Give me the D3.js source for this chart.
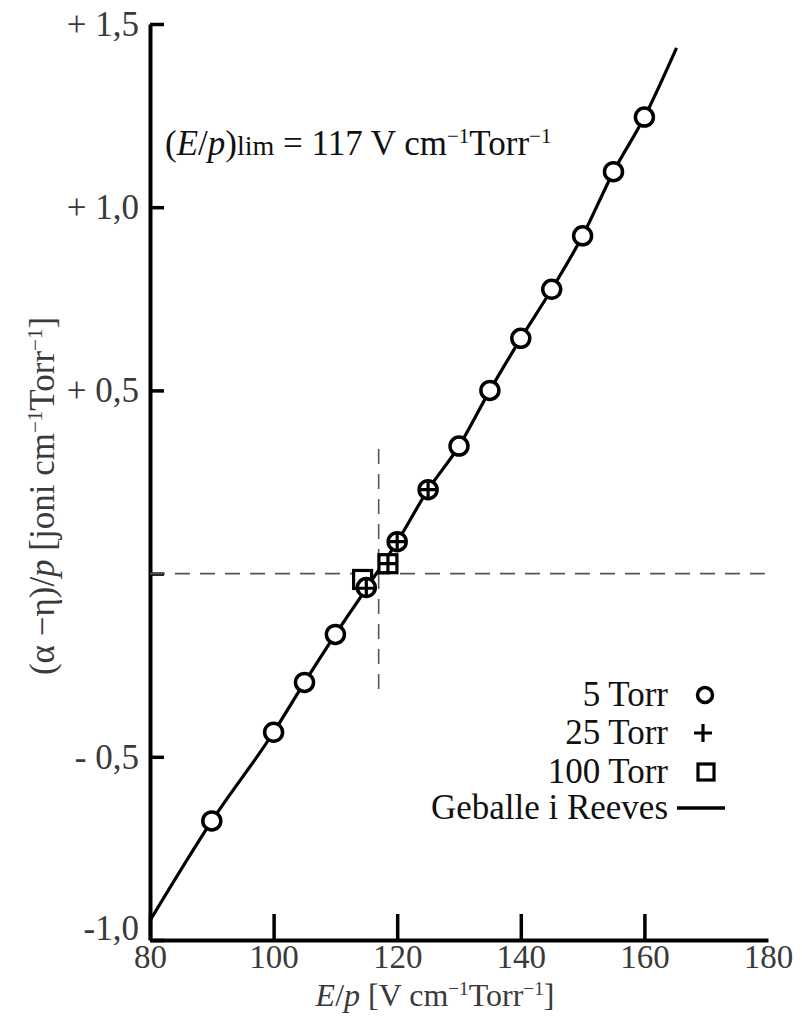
<!DOCTYPE html>
<html>
<head>
<meta charset="utf-8">
<script src="https://cdn.jsdelivr.net/npm/d3@7"></script>
<style>
  body { margin: 0; background: #fff; }
  svg { display: block; font-family: "Liberation Serif", "Times New Roman", serif; }
</style>
</head>
<body>
<svg></svg>
<script>
// 5 Torr (krugovi)
const torr5X = [90, 100, 105, 110, 115, 120, 125, 130, 135, 140, 145, 150, 155, 160];
const torr5Y = [-0.675, -0.433, -0.297, -0.166, -0.038, 0.087, 0.229, 0.348, 0.50, 0.642, 0.776, 0.922, 1.097, 1.246];
// 25 Torr (plus)
const torr25X = [115, 118.5, 120, 125];
const torr25Y = [-0.04, 0.027, 0.087, 0.229];
// 100 Torr (kvadrati)
const torr100X = [114.4, 118.5];
const torr100Y = [-0.016, 0.027];
// Geballe i Reeves
const curveX = [80, 90, 100, 105, 110, 115, 120, 125, 130, 135, 140, 145, 150, 155, 160, 165.2];
const curveY = [-0.947, -0.675, -0.433, -0.297, -0.166, -0.041, 0.087, 0.229, 0.348, 0.50, 0.642, 0.776, 0.922, 1.097, 1.246, 1.435];

const xTicks = [80, 100, 120, 140, 160, 180];
const yTicks = [-1, -0.5, 0, 0.5, 1, 1.5];
const yTickLabels = ["-1,0", "- 0,5", "", "+ 0,5", "+ 1,0", "+ 1,5"];
const limValue = 117;
const legendLabels = ["5 Torr", "25 Torr", "100 Torr", "Geballe i Reeves"];

const width = 802, height = 1017;
const fs = 35;
const svg = d3.select("svg").attr("width", width).attr("height", height);

const x = d3.scaleLinear().domain([80, 180]).range([150, 768]);
const y = d3.scaleLinear().domain([-1, 1.5]).range([940, 24]);

// osi
const yAxis = svg.append("g")
    .attr("transform", `translate(${x(80)},0)`)
    .call(d3.axisLeft(y)
        .tickValues(yTicks)
        .tickSize(-14)
        .tickSizeOuter(0)
        .tickPadding(11)
        .tickFormat((d, i) => yTickLabels[i]));

const xAxis = svg.append("g")
    .attr("transform", `translate(0,${y(-1)})`)
    .call(d3.axisBottom(x)
        .tickValues(xTicks)
        .tickSize(-26)
        .tickSizeOuter(0)
        .tickPadding(5)
        .tickFormat(d3.format("d")));

[yAxis, xAxis].forEach(g => {
    g.select(".domain").attr("stroke", "#000").attr("stroke-width", 4);
    g.selectAll(".tick line").attr("stroke", "#000").attr("stroke-width", 3.5);
    g.selectAll(".tick text")
        .style("font-family", "'Liberation Serif', serif")
        .style("font-size", fs + "px")
        .attr("fill", "#3a3a3a");
});
xAxis.selectAll(".tick text").style("font-size", "33px");
yAxis.selectAll(".tick text").filter(d => d === -1).attr("dy", "-0.02em");
xAxis.selectAll(".tick line").filter(d => d === 180).remove();

// isprekidane linije
svg.append("line")
    .attr("x1", x(80)).attr("x2", x(180))
    .attr("y1", y(0)).attr("y2", y(0))
    .attr("stroke", "#555").attr("stroke-width", 1.6)
    .attr("stroke-dasharray", "15,10");
svg.append("line")
    .attr("x1", x(limValue)).attr("x2", x(limValue))
    .attr("y1", y(0.34)).attr("y2", y(-0.335))
    .attr("stroke", "#555").attr("stroke-width", 1.6)
    .attr("stroke-dasharray", "15,10");

// krivulja
const curveData = curveX.map((d, i) => [d, curveY[i]]);
svg.append("path")
    .datum(curveData)
    .attr("fill", "none")
    .attr("stroke", "#000")
    .attr("stroke-width", 3.2)
    .attr("d", d3.line().x(d => x(d[0])).y(d => y(d[1])).curve(d3.curveMonotoneX));

function drawSquare(g, cx, cy, s) {
    g.append("rect")
        .attr("x", cx - s / 2).attr("y", cy - s / 2)
        .attr("width", s).attr("height", s)
        .attr("fill", "#fff").attr("stroke", "#000").attr("stroke-width", 3.2);
}
function drawCircle(g, cx, cy, r) {
    g.append("circle")
        .attr("cx", cx).attr("cy", cy).attr("r", r)
        .attr("fill", "#fff").attr("stroke", "#000").attr("stroke-width", 3.5);
}
function drawPlus(g, cx, cy, s) {
    g.append("path")
        .attr("d", `M${cx - s / 2},${cy}H${cx + s / 2}M${cx},${cy - s / 2}V${cy + s / 2}`)
        .attr("stroke", "#000").attr("stroke-width", 3.2);
}

const marks = svg.append("g");
torr100X.forEach((d, i) => drawSquare(marks, x(d), y(torr100Y[i]), 18));
torr5X.forEach((d, i) => drawCircle(marks, x(d), y(torr5Y[i]), 9));
torr25X.forEach((d, i) => drawPlus(marks, x(d), y(torr25Y[i]), 18));

// tekst s eksponentima
function richText(el, parts, size) {
    let shift = 0;
    parts.forEach(p => {
        const t = el.append("tspan").text(p.t);
        if (p.i) t.style("font-style", "italic");
        const target = p.sup ? -size * 0.33 : 0;
        if (target !== shift) { t.attr("dy", target - shift); shift = target; }
        if (p.sup) t.style("font-size", (size * 0.6) + "px");
        if (p.small) t.style("font-size", (size * 0.8) + "px");
    });
}

const annot = svg.append("text")
    .attr("x", 165).attr("y", 155)
    .style("font-size", fs + "px").attr("fill", "#111");
richText(annot, [
    { t: "(" }, { t: "E", i: true }, { t: "/" }, { t: "p", i: true }, { t: ")" },
    { t: "lim", small: true }, { t: " = " + limValue + " V cm" }, { t: "\u22121", sup: true },
    { t: "Torr" }, { t: "\u22121", sup: true }
], fs);

// naslov osi x
const xTitle = svg.append("text")
    .attr("x", 435).attr("y", 1006)
    .attr("text-anchor", "middle")
    .style("font-size", "32px").attr("fill", "#3a3a3a");
richText(xTitle, [
    { t: "E", i: true }, { t: "/" }, { t: "p", i: true }, { t: " [V cm" },
    { t: "\u22121", sup: true }, { t: "Torr" }, { t: "\u22121", sup: true }, { t: "]" }
], 32);

// naslov osi y
const yTitle = svg.append("text")
    .attr("transform", "translate(54,496) rotate(-90)")
    .attr("text-anchor", "middle")
    .style("font-size", fs + "px").attr("fill", "#3a3a3a");
richText(yTitle, [
    { t: "(\u03b1 \u2212\u03b7)/" }, { t: "p", i: true }, { t: " [joni cm" },
    { t: "\u22121", sup: true }, { t: "Torr" }, { t: "\u22121", sup: true }, { t: "]" }
], fs);

// legenda
const legend = svg.append("g").attr("class", "legend");
const legendX = 668, symX = 705, rowY = [695, 733, 772, 808];
legendLabels.forEach((d, i) => {
    legend.append("text")
        .attr("x", legendX).attr("y", rowY[i] + 11)
        .attr("text-anchor", "end")
        .style("font-size", fs + "px").attr("fill", "#111")
        .text(d);
});
drawCircle(legend, symX, rowY[0], 7.5);
drawPlus(legend, symX - 2, rowY[1], 18);
drawSquare(legend, symX + 1, rowY[2], 16);
legend.append("line")
    .attr("x1", symX - 28).attr("x2", symX + 20)
    .attr("y1", rowY[3]).attr("y2", rowY[3])
    .attr("stroke", "#000").attr("stroke-width", 3.5);
</script>
</body>
</html>
